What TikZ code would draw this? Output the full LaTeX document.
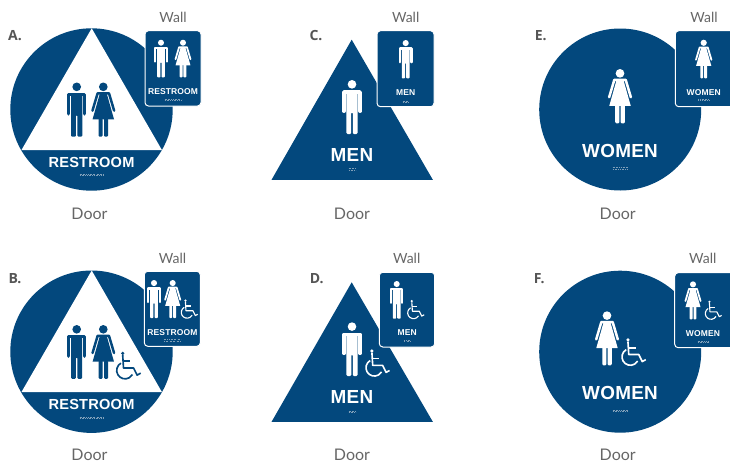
\documentclass[tikz,border=0pt]{standalone}
\usepackage{fontspec}
\setmainfont{Lato}
\newfontfamily\signfont[LetterSpace=1.5]{Liberation Sans}
\newfontfamily\letterfont{Open Sans}
\definecolor{signblue}{HTML}{03487D}
\definecolor{labelgray}{HTML}{666666}
\definecolor{lettergray}{HTML}{555555}
\definecolor{dotblue}{HTML}{7F9FB9}
\tikzset{
  caption/.style={text=labelgray,inner sep=0pt,font=\fontsize{#1}{#1}\selectfont},
  letter/.style={text=lettergray,inner sep=0pt,font=\fontsize{14}{14}\selectfont\letterfont\bfseries},
  signtext/.style={text=white,inner sep=0pt,font=\fontsize{#1}{#1}\selectfont\signfont\bfseries},
  wallsign/.style={fill=signblue,draw=white,line width=1pt,rounded corners=3.5pt},
  doorshape/.style={fill=signblue},
}
\newcommand{\manfig}[4]{% cx, top, height, colour
  \begin{scope}[shift={(#1,#2)},scale=#3/100]
    \fill[#4] (0,8) circle[radius=8];
    \draw[#4,line width={#3*0.06pt},line cap=round,line join=round] (-15,58) -- (-15,22) -- (15,22) -- (15,58);
    \fill[#4,rounded corners={#3*0.02pt}] (-10.3,20) -- (10.3,20) -- (10.3,100) -- (1.4,100) -- (1.4,60) -- (-1.4,60) -- (-1.4,100) -- (-10.3,100) -- cycle;
  \end{scope}}
\newcommand{\womanfig}[4]{% cx, top, height, colour
  \begin{scope}[shift={(#1,#2)},scale=#3/100]
    \fill[#4] (0,8) circle[radius=8];
    \draw[#4,line width={#3*0.046pt},line cap=round,line join=round] (-20,52) -- (-10.5,20) -- (10.5,20) -- (20,52);
    \fill[#4] (-6,19) -- (6,19) -- (19.8,68) -- (-19.8,68) -- cycle;
    \fill[#4,rounded corners={#3*0.02pt}] (-8.8,66) -- (-1.3,66) -- (-1.3,100) -- (-8.8,100) -- cycle;
    \fill[#4,rounded corners={#3*0.02pt}] (1.3,66) -- (8.8,66) -- (8.8,100) -- (1.3,100) -- cycle;
  \end{scope}}
\newcommand{\chairfig}[4]{% left, top, height, colour
  \begin{scope}[shift={(#1,#2)},scale=#3/100]
    \fill[#4] (22,6) circle[radius=6.5];
    \draw[#4,line width={#3*0.06pt},line join=round] (22,12) -- (25,60) -- (62,60) -- (75,86) -- (88,79);
    \draw[#4,line width={#3*0.06pt}] (24,35) -- (50,35);
    \draw[#4,line width={#3*0.06pt}] (15.5,42) arc[start angle=240,end angle=30,radius=31];
  \end{scope}}
\newcommand{\brl}[3]{% cx, y, width
  \draw[dotblue,line width=.6pt,dash pattern=on .6pt off .7pt on .6pt off 1.5pt] (#1-#3/2,#2-.6) -- (#1+#3/2,#2-.6);
  \draw[dotblue,line width=.6pt,dash pattern=on .6pt off 1.6pt on .6pt off .7pt] (#1-#3/2,#2+.6) -- (#1+#3/2,#2+.6);}
\begin{document}
\begin{tikzpicture}[x=1pt,y=-1pt]
\useasboundingbox (0,0) rectangle (730,461);
\clip (0,0) rectangle (730,461);

% A
\fill[doorshape] (91.5,109.5) circle[radius=81.2];
\fill[white] (91.7,28.3) -- (161.9,150) -- (21.5,150) -- cycle;
\manfig{76.7}{82.5}{54.2}{signblue}
\womanfig{103.3}{82.5}{54.2}{signblue}
\node[signtext=14.6] (aDoorText) at (91.5,162.6) {RESTROOM};
\brl{91.5}{175}{24}
\draw[wallsign] (145,30.7) rectangle (201,106);
\manfig{161}{39.7}{37.6}{white}
\womanfig{183}{39.7}{37.6}{white}
\node[signtext=8.5] (aWallText) at (173,91.4) {RESTROOM};
\brl{173}{99.5}{17}
\node[caption=14] (aWall) at (173,17.4) {Wall};
\node[caption=16] (aDoor) at (89.5,213.6) {Door};
\node[letter] (aLabel) at (15,36) {A.};

% B
\fill[doorshape] (91.5,351.7) circle[radius=81.2];
\fill[white] (91.7,270.5) -- (161.9,392) -- (21.5,392) -- cycle;
\manfig{76.7}{325}{53.8}{signblue}
\womanfig{103.3}{325}{53.8}{signblue}
\chairfig{116.7}{351.7}{27.2}{signblue}
\node[signtext=14.6] (bDoorText) at (91.5,404.4) {RESTROOM};
\brl{91.5}{417.7}{24}
\draw[wallsign] (144.3,271.3) rectangle (200.3,346.3);
\manfig{154}{280}{38}{white}
\womanfig{172.7}{280}{38}{white}
\chairfig{181.3}{299.5}{18.7}{white}
\node[signtext=8.5] (bWallText) at (172.4,332.1) {RESTROOM};
\brl{172.4}{340.3}{17}
\node[caption=14] (bWall) at (172.5,258.1) {Wall};
\node[caption=16] (bDoor) at (89.5,454.4) {Door};
\node[letter] (bLabel) at (15,279) {B.};

% C
\fill[doorshape] (351.7,39.7) -- (432.9,179.9) -- (271.5,179.9) -- cycle;
\manfig{352}{80}{54}{white}
\node[signtext=18.9] (cDoorText) at (352,154.9) {MEN};
\brl{352}{169.3}{7}
\draw[wallsign] (377,30.7) rectangle (434,106.7);
\manfig{405.7}{40}{38.3}{white}
\node[signtext=8.5] (cWallText) at (405.7,92.7) {MEN};
\brl{405.7}{101.7}{6}
\node[caption=14] (cWall) at (405.7,17.4) {Wall};
\node[caption=16] (cDoor) at (352,213.6) {Door};
\node[letter] (cLabel) at (316,36) {C.};

% D
\fill[doorshape] (351.7,282.3) -- (432.9,421.9) -- (271.5,421.9) -- cycle;
\manfig{352}{322.3}{53.7}{white}
\chairfig{366}{349.3}{26.8}{white}
\node[signtext=18.9] (dDoorText) at (352,396.6) {MEN};
\brl{352}{411.5}{7}
\draw[wallsign] (379.3,272.3) rectangle (434.7,347);
\manfig{396.7}{281}{37.7}{white}
\chairfig{407.7}{300}{18.7}{white}
\node[signtext=8.5] (dWallText) at (407.3,332.7) {MEN};
\brl{407.3}{341}{6}
\node[caption=14] (dWall) at (406.7,258.7) {Wall};
\node[caption=16] (dDoor) at (352,454.6) {Door};
\node[letter] (dLabel) at (316.7,279) {D.};

% E
\fill[doorshape] (620.2,109.5) circle[radius=81];
\womanfig{620}{69}{54.3}{white}
\node[signtext=18.9] (eDoorText) at (620,150.6) {WOMEN};
\brl{620}{168.3}{15}
\draw[wallsign] (675.3,30.7) rectangle (740,106.7);
\womanfig{703.7}{39.7}{38.6}{white}
\node[signtext=8.5] (eWallText) at (703.7,92.1) {WOMEN};
\brl{703.7}{100}{11}
\node[caption=14] (eWall) at (704,17.4) {Wall};
\node[caption=16] (eDoor) at (617.7,213.6) {Door};
\node[letter] (eLabel) at (540.7,36) {E.};

% F
\fill[doorshape] (620.2,351.7) circle[radius=81];
\womanfig{607}{311.3}{54}{white}
\chairfig{622}{338.3}{27}{white}
\node[signtext=18.9] (fDoorText) at (620,392.6) {WOMEN};
\brl{620}{410.7}{15}
\draw[wallsign] (674.7,272.7) rectangle (740,347.7);
\womanfig{693}{281.3}{38}{white}
\chairfig{705.3}{300.7}{18.6}{white}
\node[signtext=8.5] (fWallText) at (703,333.4) {WOMEN};
\brl{703}{341.7}{11}
\node[caption=14] (fWall) at (702.7,258.1) {Wall};
\node[caption=16] (fDoor) at (617.7,454.4) {Door};
\node[letter] (fLabel) at (539.3,279) {F.};
\end{tikzpicture}
\end{document}
